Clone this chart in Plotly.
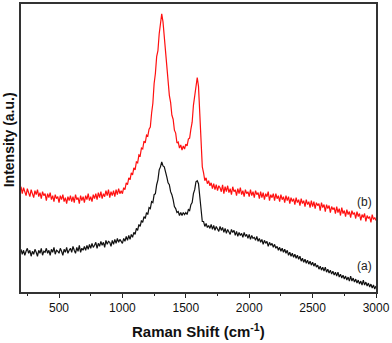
import plotly.graph_objects as go

# Raman shift grid, 10 cm-1 steps from 200 to 3000
raman_shift = list(range(200, 3010, 10))

# sample (b) - red, intensity (arb. units)
intensity_b = [
    106, 99, 105, 101, 97, 104, 100, 96, 103, 99,
    95, 102, 98, 103, 96, 100, 94, 101, 97, 99,
    92, 99, 95, 100, 93, 97, 91, 98, 94, 96,
    90, 97, 93, 98, 91, 95, 89, 96, 92, 97,
    91, 96, 90, 98, 93, 95, 89, 97, 92, 96,
    90, 97, 93, 99, 92, 96, 91, 98, 94, 99,
    93, 100, 95, 101, 94, 99, 96, 102, 97, 103,
    95, 101, 97, 102, 96, 103, 98, 104, 99, 102,
    99, 105, 103, 110, 108, 115, 113, 120, 118, 125,
    123, 131, 130, 138, 137, 145, 144, 152, 150, 158,
    157, 164, 166, 180, 190, 210, 220, 237, 243, 260,
    270, 280, 272, 256, 246, 226, 216, 198, 191, 178,
    174, 163, 160, 150, 151, 145, 148, 143, 147, 144,
    149, 147, 154, 155, 164, 171, 188, 199, 211, 216,
    207, 176, 160, 126, 120, 112, 115, 109, 112, 107,
    110, 104, 109, 103, 108, 102, 107, 105, 101, 108,
    99, 106, 101, 107, 100, 104, 98, 106, 101, 103,
    97, 104, 99, 105, 98, 102, 96, 103, 99, 101,
    96, 103, 97, 101, 95, 102, 98, 100, 94, 101,
    95, 100, 93, 99, 96, 101, 92, 98, 95, 99,
    92, 99, 94, 97, 91, 98, 93, 96, 90, 97,
    92, 96, 89, 95, 91, 94, 88, 95, 90, 93,
    87, 94, 89, 92, 86, 93, 88, 91, 85, 92,
    86, 91, 84, 90, 87, 89, 82, 90, 85, 88,
    81, 88, 84, 87, 80, 86, 83, 85, 79, 86,
    80, 84, 77, 85, 79, 82, 76, 83, 78, 81,
    75, 82, 78, 80, 74, 81, 76, 79, 72, 78,
    75, 79, 71, 77, 74, 76, 70, 78, 73, 75,
    72,
]

# sample (a) - black
intensity_a = [
    43, 38, 42, 37, 41, 44, 39, 42, 36, 41,
    38, 43, 40, 36, 42, 39, 44, 37, 41, 40,
    44, 39, 42, 37, 43, 40, 45, 38, 42, 41,
    39, 44, 41, 37, 43, 40, 45, 39, 42, 44,
    40, 46, 42, 39, 45, 41, 47, 40, 44, 42,
    46, 42, 47, 43, 48, 44, 49, 45, 47, 50,
    44, 49, 46, 51, 47, 50, 45, 52, 48, 51,
    50, 46, 52, 48, 53, 49, 54, 50, 53, 51,
    49, 54, 51, 56, 52, 57, 53, 58, 55, 60,
    58, 64, 62, 68, 66, 72, 70, 76, 74, 80,
    78, 85, 84, 91, 90, 98, 99, 108, 113, 123,
    126, 131, 127, 126, 119, 116, 110, 108, 101, 98,
    93, 86, 84, 80, 81, 77, 80, 77, 80, 78,
    80, 78, 83, 82, 88, 90, 99, 103, 111, 112,
    109, 94, 84, 71, 71, 66, 69, 65, 67, 64,
    68, 63, 67, 62, 66, 64, 61, 66, 62, 65,
    60, 64, 59, 63, 61, 58, 63, 60, 62, 57,
    61, 56, 60, 57, 59, 55, 60, 56, 58, 54,
    58, 53, 57, 54, 55, 52, 56, 51, 54, 50,
    53, 48, 52, 49, 51, 46, 50, 47, 49, 45,
    48, 44, 46, 42, 45, 41, 44, 40, 43, 39,
    42, 37, 40, 36, 39, 35, 38, 34, 37, 33,
    36, 31, 34, 30, 33, 29, 32, 28, 31, 27,
    30, 26, 29, 25, 27, 23, 26, 22, 25, 21,
    25, 20, 23, 19, 22, 18, 21, 17, 20, 16,
    20, 15, 18, 14, 17, 13, 16, 12, 15, 11,
    16, 11, 14, 10, 13, 9, 12, 8, 11, 7,
    12, 7, 10, 6, 9, 5, 8, 4, 7, 3,
    6,
]

curve_labels = ["(b)", "(a)"]
x_ticks = [500, 1000, 1500, 2000, 2500, 3000]

fig = go.Figure()
fig.add_trace(go.Scatter(x=raman_shift, y=intensity_b, mode="lines",
                         line=dict(color="#ff1010", width=1.2), name=curve_labels[0]))
fig.add_trace(go.Scatter(x=raman_shift, y=intensity_a, mode="lines",
                         line=dict(color="#111111", width=1.2), name=curve_labels[1]))

# curve labels near right edge
fig.add_annotation(x=1, xref="paper", xanchor="right", y=91, yref="y",
                   text=curve_labels[0], showarrow=False, xshift=-2,
                   font=dict(family="Arial", size=12, color="#222"))
fig.add_annotation(x=1, xref="paper", xanchor="right", y=26, yref="y",
                   text=curve_labels[1], showarrow=False, xshift=-2,
                   font=dict(family="Arial", size=12, color="#222"))

# axis titles
fig.add_annotation(x=0.5, xref="paper", y=-0.135, yref="paper", yanchor="middle",
                   text="<b>Raman Shift (cm<sup>-1</sup>)</b>", showarrow=False,
                   font=dict(family="Arial", size=15, color="#111"))
fig.add_annotation(x=-0.034, xref="paper", xanchor="center", y=0.53, yref="paper",
                   text="<b>Intensity (a.u.)</b>", showarrow=False, textangle=-90,
                   font=dict(family="Arial", size=14, color="#111"))

fig.update_xaxes(range=[200, 3000], tickvals=x_ticks, ticks="outside", ticklen=4,
                 tickwidth=1, tickcolor="#222",
                 minor=dict(tickvals=[250, 750, 1250, 1750, 2250, 2750],
                            ticks="outside", ticklen=2, tickcolor="#222"),
                 showline=True, linecolor="#333", linewidth=1.5, mirror=True,
                 showgrid=False, zeroline=False,
                 tickfont=dict(family="Arial", size=12, color="#111"))
fig.update_yaxes(range=[0, 290], showticklabels=False, ticks="",
                 showline=True, linecolor="#333", linewidth=1.5, mirror=True,
                 showgrid=False, zeroline=False)

fig.update_layout(width=392, height=343, showlegend=False,
                  margin=dict(l=21, r=16, t=2, b=51),
                  plot_bgcolor="white", paper_bgcolor="white")

# drop the default page margin so the figure sits at the window corner
fig.write_html("out.html", config={"displayModeBar": False},
               post_script="document.body.style.margin='0';")
